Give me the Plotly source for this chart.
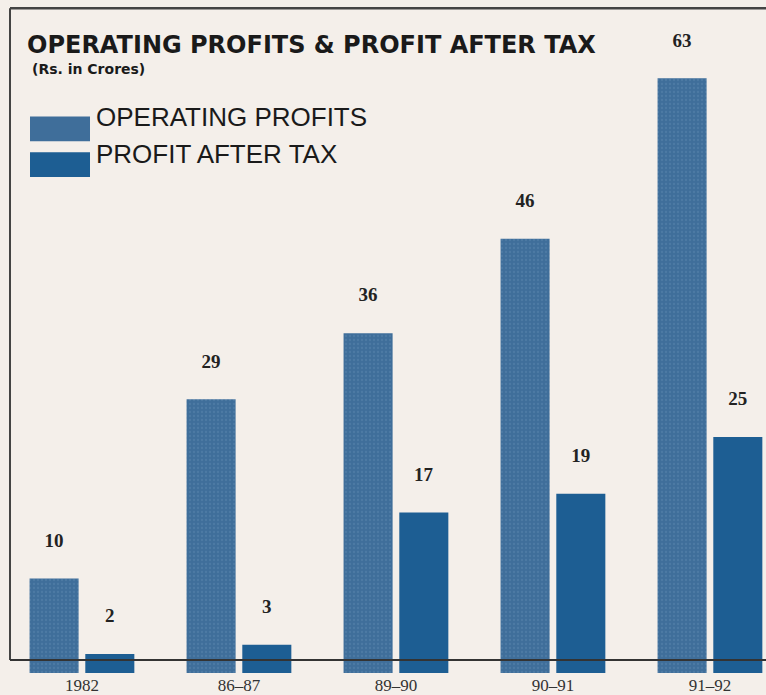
import plotly.graph_objects as go

periods = ["1982", "86–87", "89–90", "90–91", "91–92"]
operating_profits = [10, 29, 36, 46, 63]
profit_after_tax = [2, 3, 17, 19, 25]

W, H = 766, 695
TOP, BOT = 50, 678  # plot area in pixels

def py(p):
    return (BOT - p) / (BOT - TOP)

def px(p):
    return p / W

bg = "#f4efea"
op_col = "#3f6e9a"
pat_col = "#1d5e93"
ink = "#222"

fig = go.Figure()
fig.add_bar(
    x=periods, y=operating_profits, name="OPERATING PROFITS",
    marker=dict(color=op_col, line=dict(width=0),
                pattern=dict(shape=".", fgcolor="#5a86ad", size=4, solidity=0.25)),
    text=operating_profits, texttemplate="<b>%{y}</b><br> ", textposition="outside",
    textfont=dict(family="Liberation Serif", size=19, color=ink),
    cliponaxis=False,
)
fig.add_bar(
    x=periods, y=profit_after_tax, name="PROFIT AFTER TAX",
    marker=dict(color=pat_col, line=dict(width=0)),
    text=profit_after_tax, texttemplate="<b>%{y}</b><br> ", textposition="outside",
    textfont=dict(family="Liberation Serif", size=19, color=ink),
    cliponaxis=False,
)

shapes = [
    # frame: top, left, baseline
    dict(type="line", xref="paper", yref="paper", x0=px(10), x1=1, y0=py(8), y1=py(8),
         line=dict(color="#444", width=2.5)),
    dict(type="line", xref="paper", yref="paper", x0=px(10), x1=px(10), y0=py(8), y1=py(665),
         line=dict(color="#444", width=2)),
    dict(type="line", xref="paper", yref="paper", x0=px(10), x1=1, y0=py(665), y1=py(665),
         line=dict(color="#333", width=2)),
    # legend swatches
    dict(type="rect", xref="paper", yref="paper", x0=px(30), x1=px(90), y0=py(142), y1=py(117),
         fillcolor=op_col, line=dict(width=0)),
    dict(type="rect", xref="paper", yref="paper", x0=px(30), x1=px(90), y0=py(178), y1=py(153),
         fillcolor=pat_col, line=dict(width=0)),
]

annotations = [
    dict(text="<b>OPERATING PROFITS &amp; PROFIT AFTER TAX</b>", xref="paper", yref="paper",
         x=px(25), y=py(45), xanchor="left", yanchor="middle", showarrow=False,
         font=dict(family="DejaVu Sans", size=24, color="#1a1a1a")),
    dict(text="<b>(Rs. in Crores)</b>", xref="paper", yref="paper",
         x=px(30), y=py(69), xanchor="left", yanchor="middle", showarrow=False,
         font=dict(family="DejaVu Sans", size=14, color="#1a1a1a")),
    dict(text="OPERATING PROFITS", xref="paper", yref="paper",
         x=px(94), y=py(118), xanchor="left", yanchor="middle", showarrow=False,
         font=dict(family="Liberation Sans", size=26, color="#1a1a1a")),
    dict(text="PROFIT AFTER TAX", xref="paper", yref="paper",
         x=px(94), y=py(155), xanchor="left", yanchor="middle", showarrow=False,
         font=dict(family="Liberation Sans", size=26, color="#1a1a1a")),
]

fig.update_layout(
    width=W, height=H,
    margin=dict(l=0, r=0, t=TOP, b=H - BOT),
    paper_bgcolor=bg, plot_bgcolor=bg,
    showlegend=False,
    barmode="group", bargap=0.29, bargroupgap=0.12,
    shapes=shapes, annotations=annotations,
    xaxis=dict(range=[-0.522, 4.357], showgrid=False, zeroline=False, showline=False,
               ticks="", ticklabelstandoff=0,
               tickfont=dict(family="Liberation Serif", size=17, color="#333")),
    yaxis=dict(range=[0, 66], visible=False, showgrid=False, zeroline=False),
)

fig.write_html("out.html")
